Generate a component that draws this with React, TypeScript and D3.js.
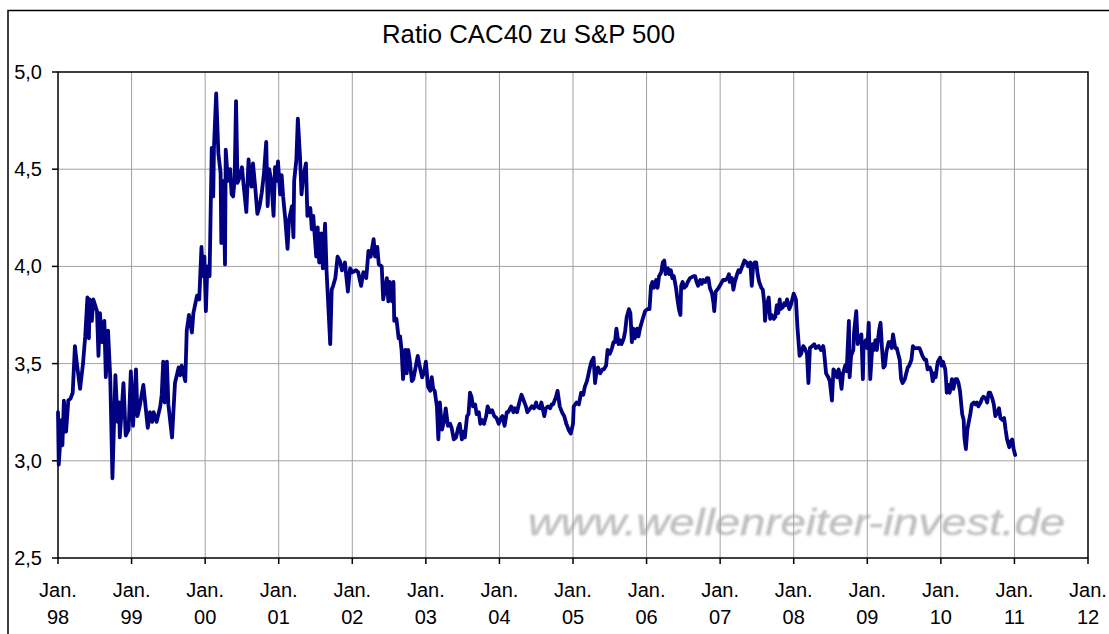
import * as d3 from "d3";
import React, { useRef, useEffect } from "react";

const title = "Ratio CAC40 zu S&P 500";
const watermark = "www.wellenreiter-invest.de";
const yearLabels = ["98", "99", "00", "01", "02", "03", "04", "05", "06", "07", "08", "09", "10", "11", "12"];
const yTicks = [2.5, 3.0, 3.5, 4.0, 4.5, 5.0];

// [decimal year, ratio]
const ratio: [number, number][] = [
  [1998.0, 3.25], [1998.01, 2.98], [1998.05, 3.21], [1998.06, 3.08], [1998.08, 3.31], [1998.11, 3.15],
  [1998.14, 3.31], [1998.17, 3.32], [1998.2, 3.35], [1998.23, 3.59], [1998.25, 3.52], [1998.3, 3.37],
  [1998.34, 3.5], [1998.37, 3.64], [1998.4, 3.84], [1998.42, 3.63], [1998.43, 3.83], [1998.46, 3.72],
  [1998.48, 3.83], [1998.53, 3.77], [1998.55, 3.54], [1998.57, 3.76], [1998.6, 3.61], [1998.63, 3.72],
  [1998.65, 3.43], [1998.68, 3.67], [1998.71, 3.43], [1998.74, 2.91], [1998.78, 3.44], [1998.81, 3.2],
  [1998.83, 3.3], [1998.84, 3.12], [1998.89, 3.4], [1998.92, 3.13], [1998.96, 3.16], [1998.99, 3.46],
  [1999.02, 3.18], [1999.06, 3.47], [1999.08, 3.23], [1999.11, 3.28], [1999.16, 3.39], [1999.22, 3.17],
  [1999.25, 3.25], [1999.28, 3.2], [1999.3, 3.25], [1999.34, 3.2], [1999.39, 3.28], [1999.41, 3.34],
  [1999.43, 3.51], [1999.45, 3.3], [1999.48, 3.51], [1999.5, 3.29], [1999.55, 3.12], [1999.59, 3.4],
  [1999.64, 3.48], [1999.66, 3.44], [1999.68, 3.49], [1999.73, 3.41], [1999.75, 3.67], [1999.78, 3.75],
  [1999.82, 3.66], [1999.84, 3.76], [1999.89, 3.85], [1999.92, 3.83], [1999.95, 4.1], [1999.97, 3.95],
  [1999.99, 4.05], [2000.01, 3.77], [2000.03, 4.0], [2000.06, 3.95], [2000.09, 4.61], [2000.11, 4.36],
  [2000.12, 4.61], [2000.15, 4.89], [2000.18, 4.58], [2000.21, 4.48], [2000.22, 4.12], [2000.25, 4.44],
  [2000.27, 4.01], [2000.28, 4.6], [2000.31, 4.44], [2000.34, 4.5], [2000.36, 4.37], [2000.38, 4.36],
  [2000.4, 4.44], [2000.42, 4.85], [2000.44, 4.43], [2000.47, 4.46], [2000.5, 4.51], [2000.52, 4.43],
  [2000.56, 4.28], [2000.59, 4.55], [2000.61, 4.45], [2000.63, 4.41], [2000.65, 4.53], [2000.68, 4.41],
  [2000.71, 4.27], [2000.74, 4.31], [2000.77, 4.38], [2000.8, 4.48], [2000.83, 4.64], [2000.85, 4.31],
  [2000.87, 4.5], [2000.9, 4.44], [2000.93, 4.26], [2000.95, 4.51], [2000.97, 4.44], [2000.99, 4.54],
  [2001.02, 4.37], [2001.04, 4.47], [2001.06, 4.36], [2001.09, 4.24], [2001.12, 4.09], [2001.14, 4.24],
  [2001.18, 4.31], [2001.2, 4.15], [2001.21, 4.44], [2001.24, 4.55], [2001.26, 4.76], [2001.29, 4.56],
  [2001.31, 4.37], [2001.33, 4.45], [2001.37, 4.53], [2001.39, 4.26], [2001.43, 4.3], [2001.45, 4.19],
  [2001.47, 4.26], [2001.51, 4.05], [2001.53, 4.2], [2001.55, 4.02], [2001.58, 4.17], [2001.6, 3.99],
  [2001.63, 4.22], [2001.65, 3.98], [2001.7, 3.6], [2001.72, 3.88], [2001.74, 3.9], [2001.77, 3.94],
  [2001.8, 4.05], [2001.83, 4.03], [2001.86, 3.98], [2001.9, 4.02], [2001.94, 3.87], [2001.97, 3.99],
  [2002.0, 3.97], [2002.05, 3.98], [2002.08, 3.97], [2002.12, 3.9], [2002.15, 3.97], [2002.19, 3.94],
  [2002.22, 4.08], [2002.25, 4.05], [2002.29, 4.14], [2002.31, 4.05], [2002.34, 4.1], [2002.36, 4.01],
  [2002.4, 4.0], [2002.42, 3.83], [2002.47, 3.94], [2002.49, 3.82], [2002.51, 3.92], [2002.54, 3.82],
  [2002.56, 3.92], [2002.57, 3.72], [2002.6, 3.73], [2002.63, 3.63], [2002.65, 3.64], [2002.67, 3.57],
  [2002.69, 3.42], [2002.72, 3.57], [2002.74, 3.45], [2002.76, 3.57], [2002.78, 3.52], [2002.81, 3.41],
  [2002.83, 3.42], [2002.86, 3.48], [2002.89, 3.54], [2002.92, 3.48], [2002.95, 3.43], [2002.98, 3.46],
  [2003.0, 3.51], [2003.03, 3.38], [2003.06, 3.36], [2003.08, 3.43], [2003.1, 3.37], [2003.12, 3.36],
  [2003.15, 3.28], [2003.17, 3.11], [2003.19, 3.3], [2003.22, 3.16], [2003.25, 3.21], [2003.27, 3.27],
  [2003.3, 3.18], [2003.33, 3.19], [2003.35, 3.17], [2003.38, 3.11], [2003.41, 3.12], [2003.44, 3.17],
  [2003.46, 3.19], [2003.49, 3.11], [2003.51, 3.15], [2003.53, 3.12], [2003.56, 3.23], [2003.58, 3.24],
  [2003.6, 3.35], [2003.62, 3.33], [2003.64, 3.28], [2003.67, 3.29], [2003.69, 3.24], [2003.72, 3.25],
  [2003.74, 3.19], [2003.76, 3.21], [2003.79, 3.19], [2003.82, 3.23], [2003.84, 3.28], [2003.87, 3.25],
  [2003.9, 3.26], [2003.93, 3.23], [2003.96, 3.22], [2003.99, 3.19], [2004.02, 3.22], [2004.04, 3.23],
  [2004.07, 3.18], [2004.1, 3.25], [2004.12, 3.25], [2004.16, 3.28], [2004.19, 3.25], [2004.21, 3.27],
  [2004.24, 3.25], [2004.27, 3.3], [2004.3, 3.34], [2004.33, 3.31], [2004.36, 3.28], [2004.38, 3.25],
  [2004.42, 3.27], [2004.44, 3.28], [2004.47, 3.27], [2004.5, 3.3], [2004.51, 3.28], [2004.55, 3.27],
  [2004.57, 3.3], [2004.61, 3.23], [2004.63, 3.27], [2004.66, 3.28], [2004.69, 3.27], [2004.71, 3.29],
  [2004.73, 3.29], [2004.77, 3.33], [2004.79, 3.36], [2004.82, 3.28], [2004.85, 3.25], [2004.88, 3.23],
  [2004.91, 3.19], [2004.94, 3.16], [2004.97, 3.14], [2005.0, 3.19], [2005.01, 3.28], [2005.05, 3.3],
  [2005.08, 3.29], [2005.11, 3.35], [2005.14, 3.34], [2005.16, 3.38], [2005.19, 3.41], [2005.23, 3.48],
  [2005.25, 3.51], [2005.28, 3.53], [2005.3, 3.4], [2005.32, 3.46], [2005.34, 3.48], [2005.37, 3.45],
  [2005.4, 3.47], [2005.42, 3.47], [2005.45, 3.49], [2005.47, 3.57], [2005.5, 3.55], [2005.53, 3.58],
  [2005.55, 3.61], [2005.57, 3.61], [2005.59, 3.68], [2005.62, 3.6], [2005.64, 3.62], [2005.66, 3.6],
  [2005.69, 3.63], [2005.71, 3.67], [2005.73, 3.74], [2005.76, 3.78], [2005.78, 3.76], [2005.8, 3.61],
  [2005.82, 3.68], [2005.84, 3.63], [2005.87, 3.68], [2005.89, 3.64], [2005.91, 3.68], [2005.94, 3.72],
  [2005.98, 3.77], [2006.01, 3.78], [2006.04, 3.78], [2006.06, 3.9], [2006.08, 3.92], [2006.1, 3.89],
  [2006.13, 3.93], [2006.15, 3.89], [2006.17, 3.95], [2006.2, 3.97], [2006.22, 4.02], [2006.24, 4.03],
  [2006.26, 3.96], [2006.29, 3.99], [2006.31, 3.96], [2006.33, 3.98], [2006.35, 3.94], [2006.37, 3.95],
  [2006.4, 3.89], [2006.42, 3.83], [2006.44, 3.78], [2006.46, 3.75], [2006.47, 3.9], [2006.49, 3.92],
  [2006.51, 3.89], [2006.54, 3.9], [2006.56, 3.92], [2006.59, 3.94], [2006.64, 3.95], [2006.66, 3.95],
  [2006.68, 3.92], [2006.7, 3.9], [2006.73, 3.93], [2006.75, 3.91], [2006.77, 3.93], [2006.8, 3.92],
  [2006.82, 3.94], [2006.84, 3.94], [2006.86, 3.89], [2006.89, 3.86], [2006.91, 3.81], [2006.92, 3.77],
  [2006.94, 3.87], [2006.98, 3.89], [2007.01, 3.91], [2007.04, 3.93], [2007.07, 3.93], [2007.1, 3.94],
  [2007.12, 3.96], [2007.13, 3.92], [2007.16, 3.94], [2007.18, 3.88], [2007.2, 3.92], [2007.23, 3.96],
  [2007.25, 3.98], [2007.27, 3.97], [2007.29, 3.99], [2007.32, 4.02], [2007.33, 4.03], [2007.36, 4.02],
  [2007.38, 4.0], [2007.41, 4.02], [2007.43, 3.9], [2007.45, 4.01], [2007.47, 4.02], [2007.49, 4.02],
  [2007.51, 3.96], [2007.53, 3.92], [2007.56, 3.89], [2007.58, 3.88], [2007.6, 3.81], [2007.61, 3.72],
  [2007.63, 3.79], [2007.66, 3.84], [2007.68, 3.73], [2007.7, 3.75], [2007.73, 3.73], [2007.75, 3.74],
  [2007.77, 3.8], [2007.79, 3.76], [2007.81, 3.83], [2007.82, 3.78], [2007.85, 3.79], [2007.87, 3.81],
  [2007.89, 3.8], [2007.91, 3.83], [2007.94, 3.78], [2007.96, 3.8], [2007.98, 3.83], [2008.0, 3.86],
  [2008.03, 3.83], [2008.05, 3.69], [2008.08, 3.54], [2008.1, 3.55], [2008.13, 3.59], [2008.15, 3.58],
  [2008.18, 3.55], [2008.2, 3.4], [2008.22, 3.58], [2008.25, 3.59], [2008.28, 3.6], [2008.3, 3.58],
  [2008.34, 3.59], [2008.37, 3.57], [2008.4, 3.59], [2008.41, 3.57], [2008.44, 3.45], [2008.47, 3.43],
  [2008.49, 3.41], [2008.52, 3.31], [2008.54, 3.47], [2008.56, 3.46], [2008.59, 3.43], [2008.61, 3.47],
  [2008.63, 3.43], [2008.65, 3.37], [2008.67, 3.45], [2008.7, 3.49], [2008.72, 3.46], [2008.75, 3.72],
  [2008.76, 3.43], [2008.78, 3.54], [2008.81, 3.57], [2008.82, 3.66], [2008.85, 3.77], [2008.87, 3.6],
  [2008.89, 3.63], [2008.92, 3.65], [2008.94, 3.42], [2008.95, 3.6], [2008.98, 3.62], [2009.0, 3.58],
  [2009.02, 3.71], [2009.04, 3.42], [2009.07, 3.6], [2009.09, 3.57], [2009.11, 3.62], [2009.13, 3.57],
  [2009.16, 3.67], [2009.18, 3.71], [2009.2, 3.58], [2009.22, 3.48], [2009.24, 3.49], [2009.26, 3.56],
  [2009.29, 3.61], [2009.31, 3.61], [2009.33, 3.58], [2009.35, 3.65], [2009.38, 3.58], [2009.4, 3.58],
  [2009.42, 3.55], [2009.44, 3.52], [2009.46, 3.42], [2009.48, 3.4], [2009.51, 3.42], [2009.53, 3.45],
  [2009.55, 3.48], [2009.57, 3.49], [2009.6, 3.52], [2009.62, 3.59], [2009.64, 3.58], [2009.66, 3.58],
  [2009.69, 3.58], [2009.71, 3.58], [2009.73, 3.56], [2009.75, 3.54], [2009.78, 3.52], [2009.8, 3.52],
  [2009.82, 3.47], [2009.85, 3.48], [2009.87, 3.46], [2009.89, 3.41], [2009.91, 3.45], [2009.93, 3.43],
  [2009.95, 3.49], [2009.96, 3.51], [2009.99, 3.53], [2010.01, 3.49], [2010.03, 3.51], [2010.06, 3.47],
  [2010.07, 3.42], [2010.08, 3.35], [2010.1, 3.39], [2010.12, 3.35], [2010.15, 3.42], [2010.17, 3.37],
  [2010.2, 3.42], [2010.22, 3.42], [2010.24, 3.4], [2010.26, 3.36], [2010.29, 3.24], [2010.31, 3.21],
  [2010.32, 3.12], [2010.34, 3.06], [2010.36, 3.16], [2010.38, 3.2], [2010.4, 3.24], [2010.42, 3.29],
  [2010.45, 3.3], [2010.47, 3.29], [2010.49, 3.3], [2010.51, 3.28], [2010.54, 3.3], [2010.56, 3.32],
  [2010.58, 3.33], [2010.61, 3.32], [2010.63, 3.3], [2010.65, 3.35], [2010.67, 3.35], [2010.7, 3.32],
  [2010.72, 3.29], [2010.74, 3.23], [2010.77, 3.25], [2010.79, 3.27], [2010.81, 3.22], [2010.84, 3.21],
  [2010.86, 3.22], [2010.88, 3.16], [2010.9, 3.11], [2010.93, 3.07], [2010.95, 3.1], [2010.97, 3.11],
  [2010.99, 3.06], [2011.01, 3.03],
];

const width = 1109;
const height = 634;
const margin = { top: 72, left: 58, right: 21, bottom: 76 };

function RatioChart() {
  const ref = useRef<SVGSVGElement>(null);

  useEffect(() => {
    const svg = d3.select(ref.current);
    svg.selectAll("*").remove();

    const x = d3.scaleLinear().domain([1998, 2012]).range([margin.left, width - margin.right]);
    const y = d3.scaleLinear().domain([2.5, 5]).range([height - margin.bottom, margin.top]);
    const yearTicks = yearLabels.map((_, i) => 1998 + i);
    const font = "Arial, 'Liberation Sans', sans-serif";

    // outer frame
    svg.append("rect")
      .attr("x", 8).attr("y", 10.5)
      .attr("width", width).attr("height", height)
      .attr("fill", "white").attr("stroke", "black").attr("stroke-width", 1.5);

    svg.append("text")
      .attr("x", 528.5).attr("y", 43)
      .attr("text-anchor", "middle")
      .attr("font-family", font).attr("font-size", 26)
      .attr("textLength", 293).attr("lengthAdjust", "spacingAndGlyphs")
      .text(title);

    // watermark under the grid
    const defs = svg.append("defs");
    defs.append("filter").attr("id", "soft")
      .append("feGaussianBlur").attr("stdDeviation", 0.9);
    svg.append("text")
      .attr("x", 528).attr("y", 535)
      .attr("font-family", font).attr("font-size", 36).attr("font-style", "italic")
      .attr("fill", "#bdbdbd")
      .attr("stroke", "#cfcfcf").attr("stroke-width", 0.8)
      .attr("textLength", 537).attr("lengthAdjust", "spacingAndGlyphs")
      .attr("filter", "url(#soft)")
      .text(watermark);

    const g = svg.append("g");

    g.selectAll(".vgrid").data(yearTicks.slice(1, -1)).join("line")
      .attr("x1", (d) => x(d)).attr("x2", (d) => x(d))
      .attr("y1", y(5)).attr("y2", y(2.5))
      .attr("stroke", "#a0a0a0").attr("stroke-width", 1);

    g.selectAll(".hgrid").data(yTicks.slice(1, -1)).join("line")
      .attr("x1", x(1998)).attr("x2", x(2012))
      .attr("y1", (d) => y(d)).attr("y2", (d) => y(d))
      .attr("stroke", "#a0a0a0").attr("stroke-width", 1);

    g.append("rect")
      .attr("x", x(1998)).attr("y", y(5))
      .attr("width", x(2012) - x(1998)).attr("height", y(2.5) - y(5))
      .attr("fill", "none").attr("stroke", "black").attr("stroke-width", 1.5);

    // y ticks
    g.selectAll(".ytick").data(yTicks).join("line")
      .attr("x1", x(1998) - 6).attr("x2", x(1998))
      .attr("y1", (d) => y(d)).attr("y2", (d) => y(d))
      .attr("stroke", "black").attr("stroke-width", 1.5);
    g.selectAll(".ylab").data(yTicks).join("text")
      .attr("x", 42).attr("y", (d) => y(d) + 7)
      .attr("text-anchor", "end")
      .attr("font-family", font).attr("font-size", 20)
      .text((d) => d3.format(".1f")(d).replace(".", ","));

    // x ticks
    g.selectAll(".xtick").data(yearTicks).join("line")
      .attr("x1", (d) => x(d)).attr("x2", (d) => x(d))
      .attr("y1", y(2.5)).attr("y2", y(2.5) + 6)
      .attr("stroke", "black").attr("stroke-width", 1.5);
    g.selectAll(".xlab1").data(yearTicks).join("text")
      .attr("x", (d) => x(d)).attr("y", 597)
      .attr("text-anchor", "middle")
      .attr("font-family", font).attr("font-size", 20)
      .text("Jan.");
    g.selectAll(".xlab2").data(yearLabels).join("text")
      .attr("x", (_, i) => x(yearTicks[i])).attr("y", 624)
      .attr("text-anchor", "middle")
      .attr("font-family", font).attr("font-size", 20)
      .text((d) => d);

    const line = d3.line<[number, number]>()
      .x((d) => x(d[0]))
      .y((d) => y(d[1]));

    g.append("path")
      .datum(ratio)
      .attr("d", line)
      .attr("fill", "none")
      .attr("stroke", "#000080")
      .attr("stroke-width", 3.8)
      .attr("stroke-linejoin", "round")
      .attr("stroke-linecap", "round");
  }, []);

  return <svg ref={ref} width={width} height={height} style={{ display: "block" }}></svg>;
}

export default function App() {
  useEffect(() => {
    document.body.style.margin = "0";
  }, []);
  return (
    <div>
      <RatioChart />
    </div>
  );
}
